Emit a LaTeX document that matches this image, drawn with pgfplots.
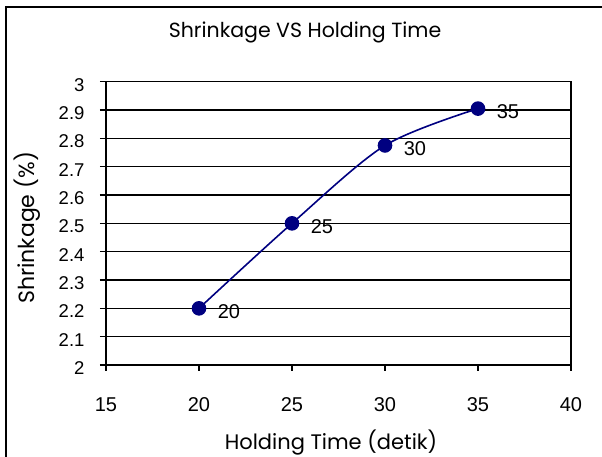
\documentclass[border=0pt]{standalone}
\usepackage{fontspec}
\setmainfont{Liberation Sans}
\newfontfamily\gothic{Poppins}
\usepackage{pgfplots}
\pgfplotsset{compat=1.18}
\definecolor{navyline}{RGB}{0,0,128}
\begin{document}
\begin{tikzpicture}[x=1pt,y=1pt]
\useasboundingbox (0,0) rectangle (602,457);
\draw[line width=1.6pt] (6,-5) -- (6,450) -- (610,450);
\begin{axis}[
  at={(106pt,92pt)}, anchor=south west,
  scale only axis, width=465pt, height=283.3pt,
  xmin=15, xmax=40, ymin=2, ymax=3,
  xtick={15,20,25,30,35,40},
  ytick={2,2.1,2.2,2.3,2.4,2.5,2.6,2.7,2.8,2.9,3},
  yticklabels={2,2.1,2.2,2.3,2.4,2.5,2.6,2.7,2.8,2.9,3},
  /pgf/number format/assume math mode=true,
  tick pos=left, tick align=outside,
  major tick length=6pt,
  tick style={black, line width=1.3pt},
  axis line style={black, line width=1.6pt},
  ymajorgrids, grid style={black, line width=1.2pt},
  x tick label style={font=\fontsize{20}{24}\selectfont, anchor=center, yshift=-34pt},
  y tick label style={font=\fontsize{18.5}{22}\selectfont, anchor=east, xshift=-12pt, yshift=-3pt},
  title={\gothic\fontsize{20.5}{24}\selectfont Shrinkage VS Holding Time},
  title style={at={(rel axis cs:0.428,1.154)}, anchor=center},
  xlabel={\gothic\fontsize{21}{25}\selectfont Holding Time (detik)},
  xlabel style={at={(rel axis cs:0.484,-0.275)}, anchor=center},
  ylabel={\gothic\fontsize{22}{26}\selectfont Shrinkage (\%)},
  ylabel style={at={(rel axis cs:-0.170,0.484)}, anchor=center},
  clip=false,
]
\addplot[color=navyline, line width=1.6pt, smooth, tension=0.5,
  mark=*, mark size=6.5pt, mark options={fill=navyline, draw=navyline},
  point meta=x,
  nodes near coords={\pgfmathprintnumber{\pgfplotspointmeta}},
  nodes near coords style={anchor=west, inner sep=0pt, xshift=18pt, yshift=-3pt,
    font=\fontsize{20}{24}\selectfont, text=black},
] coordinates {(20,2.2) (25,2.5) (30,2.775) (35,2.905)};
\end{axis}
\end{tikzpicture}
\end{document}
